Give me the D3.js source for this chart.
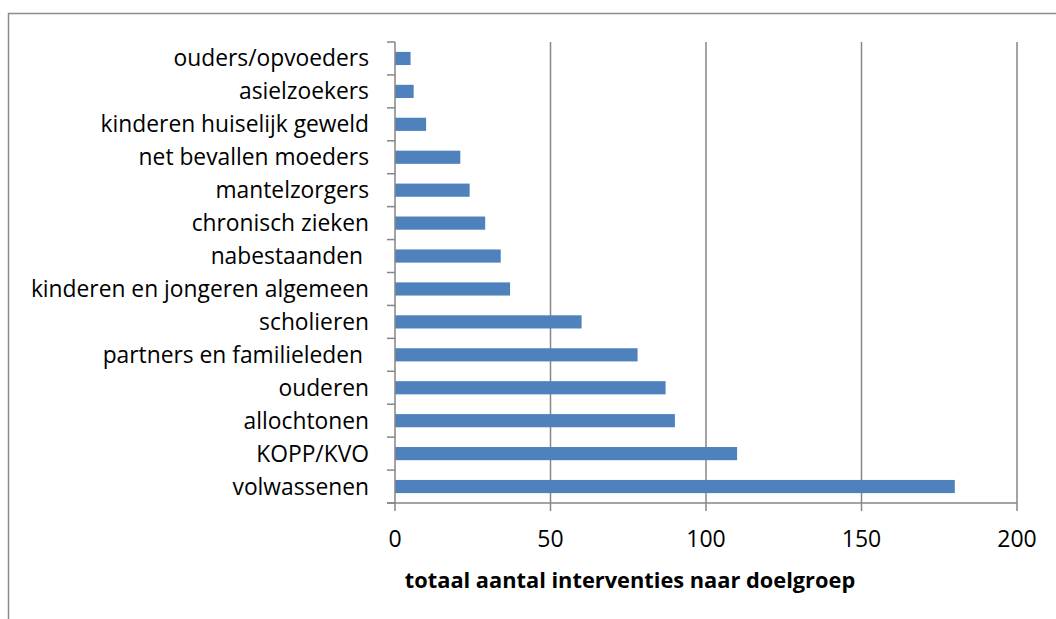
<!DOCTYPE html>
<html>
<head>
<meta charset="utf-8">
<script src="https://cdn.jsdelivr.net/npm/d3@7"></script>
<style>
  html, body { margin: 0; padding: 0; background: #fff; }
  svg { display: block; }
</style>
</head>
<body>
<div id="chart"></div>
<script>
// doelgroepen, from top to bottom as they appear
const categories = [
  'ouders/opvoeders',
  'asielzoekers',
  'kinderen huiselijk geweld',
  'net bevallen moeders',
  'mantelzorgers',
  'chronisch zieken',
  'nabestaanden ',
  'kinderen en jongeren algemeen',
  'scholieren',
  'partners en familieleden ',
  'ouderen',
  'allochtonen',
  'KOPP/KVO',
  'volwassenen'
]
const values = [5, 6, 10, 21, 24, 29, 34, 37, 60, 78, 87, 90, 110, 180]
const xTicks = [0, 50, 100, 150, 200]
const xTitle = 'totaal aantal interventies naar doelgroep'

const width = 1056
const height = 619
const margin = { top: 42, right: 39, bottom: 116, left: 395 }

const svg = d3.select('#chart').append('svg')
  .attr('width', width)
  .attr('height', height)
  .style('font-family', '"Open Sans", sans-serif')

// outer chart frame (runs off the right and bottom edge)
svg.append('rect')
  .attr('x', 8.5)
  .attr('y', 13.5)
  .attr('width', 1060)
  .attr('height', 640)
  .attr('fill', 'none')
  .attr('stroke', '#8c8c8c')
  .attr('stroke-width', 1.5)

const x = d3.scaleLinear()
  .domain([0, 200])
  .range([margin.left, width - margin.right])

const y = d3.scaleBand()
  .domain(categories)
  .range([margin.top, height - margin.bottom])
  .paddingInner(0.6)
  .paddingOuter(0.3)

const yTicks = d3.scaleBand()
  .domain(categories)
  .range([margin.top, height - margin.bottom])

const plotBottom = height - margin.bottom

// vertical gridlines (also the x tick marks below the axis)
svg.append('g')
  .selectAll('line')
  .data(xTicks.slice(1))
  .join('line')
  .attr('x1', d => x(d))
  .attr('x2', d => x(d))
  .attr('y1', margin.top)
  .attr('y2', plotBottom + 8)
  .attr('stroke', '#868686')
  .attr('stroke-width', 1.5)

// bars
svg.append('g')
  .selectAll('rect')
  .data(values)
  .join('rect')
  .attr('x', x(0))
  .attr('y', (d, i) => y(categories[i]))
  .attr('width', d => x(d) - x(0))
  .attr('height', y.bandwidth())
  .attr('fill', '#4f81bd')

// y axis line + ticks
const yAxis = svg.append('g')
yAxis.append('line')
  .attr('x1', x(0)).attr('x2', x(0))
  .attr('y1', margin.top).attr('y2', plotBottom + 8)
  .attr('stroke', '#868686')
  .attr('stroke-width', 1.5)
yAxis.selectAll('line.tick')
  .data(categories.map(c => yTicks(c)).concat([plotBottom]))
  .join('line')
  .attr('class', 'tick')
  .attr('x1', x(0) - 8).attr('x2', x(0))
  .attr('y1', d => d).attr('y2', d => d)
  .attr('stroke', '#868686')
  .attr('stroke-width', 1.5)

// x axis line
svg.append('line')
  .attr('x1', x(0) - 8).attr('x2', x(200))
  .attr('y1', plotBottom).attr('y2', plotBottom)
  .attr('stroke', '#868686')
  .attr('stroke-width', 1.5)

// category labels
svg.append('g')
  .selectAll('text')
  .data(categories)
  .join('text')
  .attr('x', 369)
  .attr('y', d => yTicks(d) + yTicks.bandwidth() / 2)
  .attr('dy', '0.35em')
  .attr('text-anchor', 'end')
  .attr('font-size', 22.8)
  .attr('fill', '#000')
  .style('white-space', 'pre')
  .text(d => d)

// x tick labels
svg.append('g')
  .selectAll('text')
  .data(xTicks)
  .join('text')
  .attr('x', d => x(d))
  .attr('y', 547)
  .attr('text-anchor', 'middle')
  .attr('font-size', 23)
  .attr('fill', '#000')
  .text(d => d)

// axis title
svg.append('text')
  .attr('x', 630)
  .attr('y', 588)
  .attr('text-anchor', 'middle')
  .attr('font-size', 21.8)
  .attr('font-weight', 'bold')
  .attr('fill', '#000')
  .text(xTitle)
</script>
</body>
</html>
